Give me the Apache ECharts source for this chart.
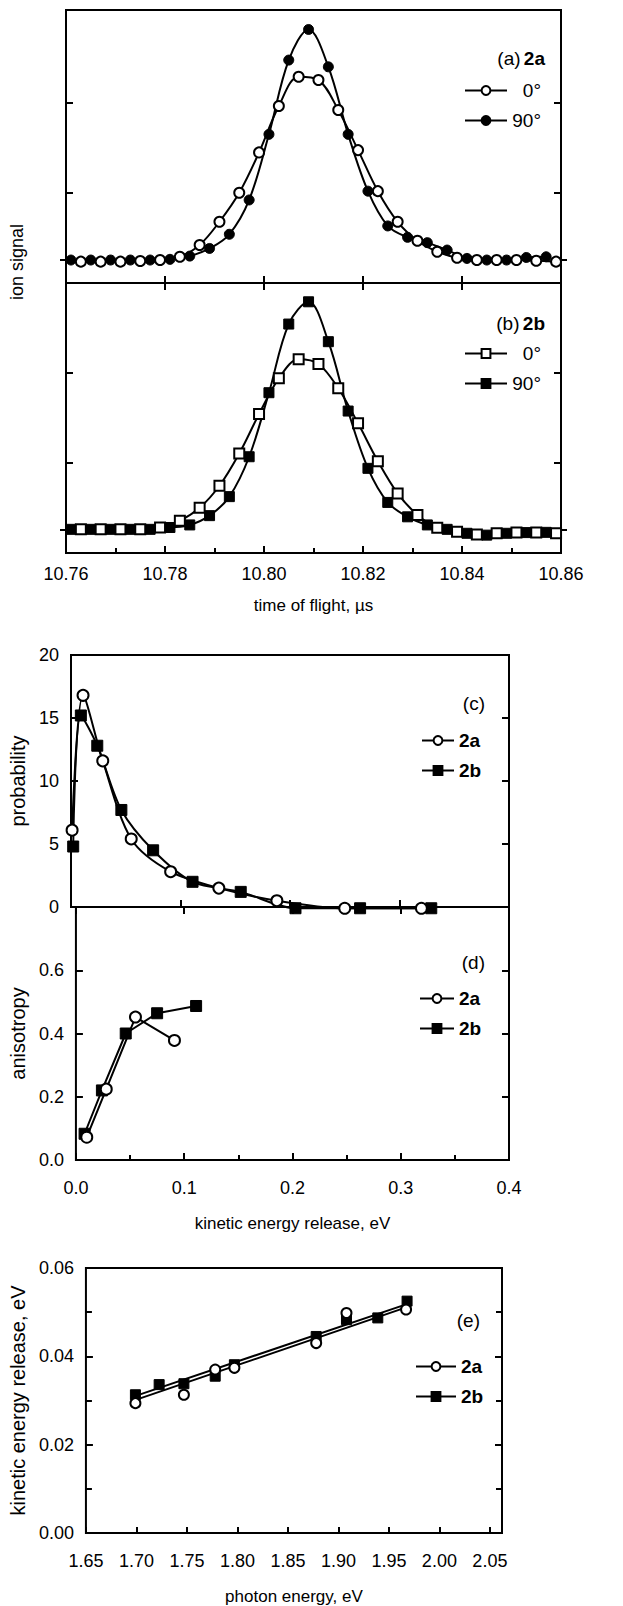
<!DOCTYPE html>
<html>
<head>
<meta charset="utf-8">
<title>Ion signal, KER distribution and anisotropy</title>
<script src="https://cdn.jsdelivr.net/npm/echarts@6/dist/echarts.min.js"></script>
<style>
  html, body { margin: 0; padding: 0; background: #fff; }
  #chart { width: 623px; height: 1606px; }
</style>
</head>
<body>
<div id="chart"></div>
<script>
// (a) 2a – time of flight profiles, 0° and 90° polarization (signal in arbitrary units, baseline = 0)
const tofA0  = [10.763, 10.767, 10.771, 10.775, 10.779, 10.783, 10.787, 10.791, 10.795, 10.799, 10.803, 10.807, 10.811,
                10.815, 10.819, 10.823, 10.827, 10.831, 10.835, 10.839, 10.843, 10.847, 10.851, 10.855, 10.859];
const sigA0  = [-0.7, -0.7, -0.7, -0.4, 0, 1.4, 6.5, 16.5, 29.0, 46.4, 66.4, 79.0, 77.6,
                64.7, 47.4, 29.7, 16.5, 8.3, 3.6, 1.0, 0, 0, 0, -0.3, -0.7];
const tofA90 = [10.761, 10.765, 10.769, 10.773, 10.777, 10.781, 10.785, 10.789, 10.793, 10.797, 10.801, 10.805, 10.809,
                10.813, 10.817, 10.821, 10.825, 10.829, 10.833, 10.837, 10.841, 10.845, 10.849, 10.853, 10.857];
const sigA90 = [0, 0, 0, 0, 0, 0.3, 1.7, 5.0, 11.1, 25.9, 54.2, 86.2, 99.4,
                83.3, 54.2, 29.7, 14.7, 9.8, 7.5, 4.3, 0.7, 0, 0, 1.1, 1.4];

// (b) 2b
const tofB0  = tofA0;
const sigB0  = [0.3, 0.3, 0.3, 0.3, 1.1, 4.0, 9.6, 19.1, 33.0, 50.0, 65.4, 73.6, 71.6,
                61.1, 46.0, 29.7, 15.8, 6.5, 1.0, -0.7, -1.9, -1.4, -1.1, -1.1, -1.4];
const tofB90 = tofA90;
const sigB90 = [0.3, 0.3, 0.3, 0.3, 0.3, 1.1, 2.2, 6.2, 14.4, 31.6, 59.2, 88.8, 98.4,
                81.2, 51.3, 26.6, 11.9, 5.7, 2.2, 0.3, -1.4, -2.2, -1.4, -1.1, -1.0];

// (c) probability vs kinetic energy release
const keC2a   = [0.001, 0.011, 0.029, 0.055, 0.091, 0.135, 0.188, 0.250, 0.320];
const probC2a = [6.1, 16.8, 11.6, 5.4, 2.8, 1.5, 0.5, -0.1, -0.1];
const keC2b   = [0.002, 0.009, 0.024, 0.046, 0.075, 0.111, 0.155, 0.205, 0.264, 0.329];
const probC2b = [4.8, 15.2, 12.8, 7.7, 4.5, 2.0, 1.2, -0.1, -0.1, -0.1];

// (d) anisotropy vs kinetic energy release
const keD2a   = [0.010, 0.028, 0.055, 0.091];
const anisD2a = [0.072, 0.224, 0.452, 0.378];
const keD2b   = [0.008, 0.024, 0.046, 0.075, 0.111];
const anisD2b = [0.083, 0.220, 0.400, 0.464, 0.487];

// (e) kinetic energy release vs photon energy, with straight-line fits
const phE2a  = [1.699, 1.747, 1.778, 1.797, 1.878, 1.908, 1.967];
const kerE2a = [0.0294, 0.0313, 0.0370, 0.0374, 0.0430, 0.0498, 0.0506];
const phE2b  = [1.699, 1.7225, 1.747, 1.778, 1.797, 1.878, 1.908, 1.939, 1.968];
const kerE2b = [0.0313, 0.0336, 0.0338, 0.0355, 0.0381, 0.0445, 0.0483, 0.0487, 0.0525];
const fitPhE  = [1.70, 1.97];
const fitE2a  = [0.0302, 0.0513];
const fitE2b  = [0.0311, 0.0520];

// tick labels
const tofTicks    = [10.76, 10.78, 10.80, 10.82, 10.84, 10.86];
const photonTicks = [1.65, 1.70, 1.75, 1.80, 1.85, 1.90, 1.95, 2.00, 2.05];
const signalTicks = [29, 68];

const FONT = '"Liberation Sans", Arial, Helvetica, sans-serif';
const TICK_SIZE = 18;
const TITLE_SIZE = 17;
const YNAME_SIZE = 20;
const KEY_SIZE = 19;
const legendNames = {
    a0: '0°', a90: '90°', b0: '0°', b90: '90°',
    c2a: '2a', c2b: '2b', d2a: '2a', d2b: '2b', e2a: '2a', e2b: '2b'
};

const zip = (xs, ys) => xs.map((x, i) => [x, ys[i]]);

const openMark = { color: '#fff', borderColor: '#000', borderWidth: 2 };
const fullMark = { color: '#000', borderColor: '#000', borderWidth: 1 };

function lineSeries(name, xi, yi, xs, ys, symbol, filled, opts) {
    return Object.assign({
        name: name,
        type: 'line',
        xAxisIndex: xi,
        yAxisIndex: yi,
        data: zip(xs, ys),
        symbol: symbol,
        symbolSize: 10,
        showAllSymbol: true,
        clip: false,
        itemStyle: filled ? fullMark : openMark,
        lineStyle: { color: '#000', width: 2 },
        emphasis: { disabled: true },
        z: filled ? 3 : 4
    }, opts || {});
}

// оси без подписей, только засечки
function tickAxis(grid, position, extra) {
    return Object.assign({
        type: 'value',
        gridIndex: grid,
        position: position,
        axisLine: { show: false, onZero: false },
        axisLabel: { show: false },
        axisTick: { show: true, inside: true, length: 7, lineStyle: { color: '#000', width: 2 } },
        splitLine: { show: false }
    }, extra);
}

const labelStyle = { color: '#000', fontSize: TICK_SIZE, fontFamily: FONT };
const titleStyle = { color: '#000', fontSize: TITLE_SIZE, fontFamily: FONT };
const ynameStyle = { color: '#000', fontSize: YNAME_SIZE, fontFamily: FONT };

function legend(data, left, top, itemWidth, bold, extra) {
    return Object.assign({
        data: data,
        orient: 'vertical',
        left: left,
        top: top,
        itemWidth: itemWidth,
        itemHeight: 11,
        itemGap: 11,
        selectedMode: false,
        formatter: n => bold ? legendNames[n] : '{r|' + legendNames[n] + '}',
        textStyle: {
            color: '#000', fontSize: KEY_SIZE, fontFamily: FONT,
            fontWeight: bold ? 'bold' : 'normal',
            rich: { r: { width: 29, align: 'right', fontSize: KEY_SIZE, fontFamily: FONT } }
        }
    }, extra || {});
}

function panelLabel(x, y, tag, bold) {
    return {
        type: 'text',
        x: x, y: y,
        style: {
            text: '{n|' + tag + '}' + (bold ? ' {b|' + bold + '}' : ''),
            align: 'right',
            verticalAlign: 'middle',
            rich: {
                n: { fontSize: KEY_SIZE, fontFamily: FONT, fill: '#000' },
                b: { fontSize: KEY_SIZE, fontFamily: FONT, fontWeight: 'bold', fill: '#000' }
            }
        }
    };
}

const tofAxisCommon = { min: 10.76, max: 10.86, interval: 0.02 };
const sigA = { min: -9.9, max: 107.8 };
const sigB = { min: -9.9, max: 106.5 };
const tickLine = { color: '#000', width: 2 };
const zeroTick = { axisTick: { show: true, inside: false, length: 6, customValues: [0], lineStyle: tickLine } };
const sigTick = { axisTick: { show: true, inside: true, length: 7, customValues: signalTicks, lineStyle: tickLine } };

const option = {
    backgroundColor: '#fff',
    animation: false,
    grid: [
        { left: 66, top: 10, width: 495, height: 273 },
        { left: 66, top: 283, width: 495, height: 270 },
        { left: 71, top: 655, width: 438, height: 252 },
        { left: 71, top: 907, width: 438, height: 253 },
        { left: 78, top: 1268, width: 424, height: 265 }
    ].map(g => Object.assign(g, { show: true, borderColor: '#000', borderWidth: 2, backgroundColor: 'transparent' })),
    xAxis: [
        tickAxis(0, 'bottom', tofAxisCommon),
        tickAxis(1, 'bottom', Object.assign({}, tofAxisCommon, {
            axisLabel: Object.assign({ show: true, margin: 12, customValues: tofTicks, formatter: v => v.toFixed(2) }, labelStyle),
            minorTick: { show: true, splitNumber: 2, length: 5, lineStyle: tickLine },
            name: 'time of flight, µs',
            nameLocation: 'middle',
            nameGap: 44,
            nameTextStyle: titleStyle
        })),
        tickAxis(1, 'top', tofAxisCommon),
        tickAxis(2, 'bottom', { min: 0, max: 0.4, interval: 0.1 }),
        tickAxis(3, 'bottom', {
            min: 0, max: 0.4, interval: 0.1,
            axisLabel: Object.assign({ show: true, margin: 19, formatter: v => v.toFixed(1) }, labelStyle),
            minorTick: { show: true, splitNumber: 2, length: 5, lineStyle: tickLine },
            name: 'kinetic energy release, eV',
            nameLocation: 'middle',
            nameGap: 55,
            nameTextStyle: titleStyle
        }),
        tickAxis(3, 'top', { min: 0, max: 0.4, interval: 0.1 }),
        tickAxis(4, 'bottom', {
            min: 1.65, max: 2.062,
            axisTick: { show: true, inside: true, length: 6, customValues: photonTicks, lineStyle: tickLine },
            axisLabel: Object.assign({ show: true, margin: 19, customValues: photonTicks, formatter: v => v.toFixed(2) }, labelStyle),
            name: 'photon energy, eV',
            nameLocation: 'middle',
            nameGap: 55,
            nameTextStyle: titleStyle
        })
    ],
    yAxis: [
        tickAxis(0, 'left', Object.assign({}, sigTick, sigA)),
        tickAxis(0, 'right', Object.assign({}, sigTick, sigA)),
        tickAxis(0, 'left', Object.assign({}, zeroTick, sigA)),
        tickAxis(0, 'right', Object.assign({}, zeroTick, sigA)),
        tickAxis(1, 'left', Object.assign({}, sigTick, sigB)),
        tickAxis(1, 'right', Object.assign({}, sigTick, sigB)),
        tickAxis(1, 'left', Object.assign({}, zeroTick, sigB)),
        tickAxis(1, 'right', Object.assign({}, zeroTick, sigB)),
        tickAxis(2, 'left', {
            min: 0, max: 20, interval: 5,
            axisLabel: Object.assign({ show: true, margin: 12 }, labelStyle),
            name: 'probability', nameLocation: 'middle', nameGap: 42, nameTextStyle: ynameStyle
        }),
        tickAxis(2, 'right', { min: 0, max: 20, interval: 5 }),
        tickAxis(3, 'left', {
            min: 0, max: 0.8, interval: 0.2,
            axisLabel: Object.assign({ show: true, margin: 12, formatter: v => v > 0.7 ? '' : v.toFixed(1) }, labelStyle),
            name: 'anisotropy', nameLocation: 'middle', nameGap: 47, nameTextStyle: ynameStyle
        }),
        tickAxis(3, 'right', { min: 0, max: 0.8, interval: 0.2 }),
        tickAxis(4, 'left', {
            min: 0, max: 0.06, interval: 0.02,
            axisLabel: Object.assign({ show: true, margin: 12, formatter: v => v.toFixed(2) }, labelStyle),
            minorTick: { show: true, splitNumber: 2, length: 6, lineStyle: tickLine },
            name: 'kinetic energy release, eV', nameLocation: 'middle', nameGap: 49, nameTextStyle: ynameStyle
        }),
        tickAxis(4, 'right', {
            min: 0, max: 0.06, interval: 0.02,
            minorTick: { show: true, splitNumber: 2, length: 6, lineStyle: tickLine }
        })
    ],
    legend: [
        legend(['a0', 'a90'], 459, 76, 42, false),
        legend(['b0', 'b90'], 459, 339, 42, false),
        legend(['c2a', 'c2b'], 416, 726, 32, true),
        legend(['d2a', 'd2b'], 414, 984, 34, true),
        legend(['e2a', 'e2b'], 410, 1352, 40, true, { lineStyle: { color: '#000', width: 2, opacity: 1 } })
    ],
    graphic: [
        panelLabel(545, 58, '(a)', '2a'),
        panelLabel(545, 323, '(b)', '2b'),
        panelLabel(485, 703, '(c)'),
        panelLabel(485, 962, '(d)'),
        panelLabel(480, 1320, '(e)'),
        {
            type: 'text', x: 17, y: 262, rotation: Math.PI / 2,
            style: { text: 'ion signal', fontSize: 18, fontFamily: FONT, fill: '#000', align: 'center', verticalAlign: 'middle' }
        }
    ],
    series: [
        lineSeries('a0', 0, 0, tofA0, sigA0, 'circle', false, { smooth: 0.35 }),
        lineSeries('a90', 0, 0, tofA90, sigA90, 'circle', true, { smooth: 0.35 }),
        lineSeries('b0', 1, 4, tofB0, sigB0, 'rect', false, { smooth: 0.35 }),
        lineSeries('b90', 1, 4, tofB90, sigB90, 'rect', true, { smooth: 0.35 }),
        lineSeries('c2a', 3, 8, keC2a, probC2a, 'circle', false, { smooth: 0.3, symbolSize: 11 }),
        lineSeries('c2b', 3, 8, keC2b, probC2b, 'rect', true, { smooth: 0.3, symbolSize: 11 }),
        lineSeries('d2a', 4, 10, keD2a, anisD2a, 'circle', false, { symbolSize: 11 }),
        lineSeries('d2b', 4, 10, keD2b, anisD2b, 'rect', true, { symbolSize: 11 }),
        lineSeries('e2aFit', 6, 12, fitPhE, fitE2a, 'none', false, { z: 2 }),
        lineSeries('e2bFit', 6, 12, fitPhE, fitE2b, 'none', true, { z: 2 }),
        lineSeries('e2a', 6, 12, phE2a, kerE2a, 'circle', false, { lineStyle: { color: '#000', width: 0, opacity: 0 } }),
        lineSeries('e2b', 6, 12, phE2b, kerE2b, 'rect', true, { lineStyle: { color: '#000', width: 0, opacity: 0 } })
    ]
};

const chart = echarts.init(document.getElementById('chart'), null, { renderer: 'svg' });
chart.setOption(option);
</script>
</body>
</html>
